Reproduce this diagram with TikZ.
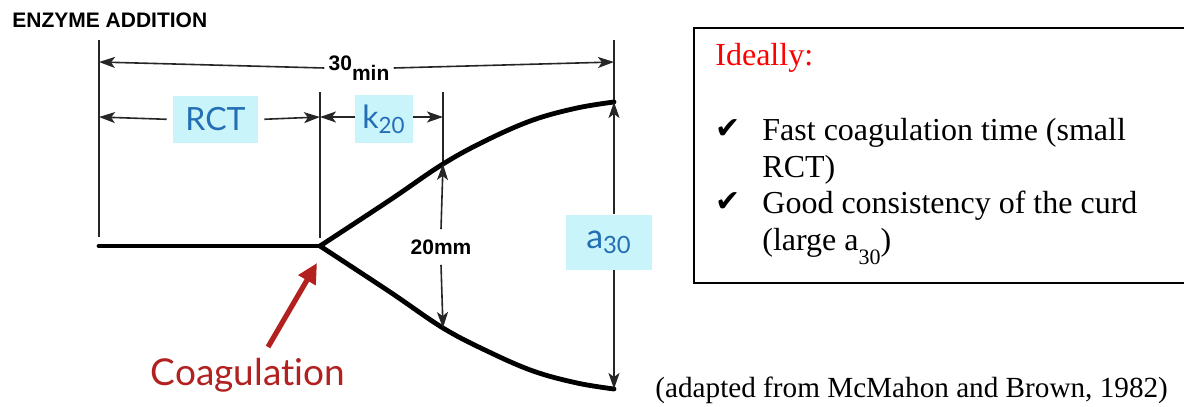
\documentclass[tikz,border=0pt]{standalone}
\usepackage{fontspec}
\setmainfont{Liberation Serif}
\newfontfamily\helvfont{Liberation Sans}
\newfontfamily\gillfont{Lato}[Ligatures=NoCommon]
\newfontfamily\symfont{DejaVu Sans}
\usetikzlibrary{
  arrows.meta,
  positioning,
  calc
}
\definecolor{tagcyan}{RGB}{200,244,250}
\definecolor{tagblue}{RGB}{35,110,180}
\definecolor{coagred}{RGB}{178,32,32}
\tikzset{
  dimline/.style={line width=0.8pt,draw=black!85},
  dimarrow/.style={dimline,-{Stealth[length=8pt,width=5.5pt,inset=2pt]}},
  curdline/.style={line width=2.4pt,line cap=round,line join=round},
  tagbox/.style={
    fill=tagcyan,
    text=tagblue,
    inner sep=0pt,
    font=\gillfont\fontsize{16}{16}\selectfont
  },
  dimlabel/.style={font=\helvfont\bfseries\fontsize{10.5}{10.5}\selectfont,inner sep=2pt},
  boxtext/.style={font=\fontsize{16}{18}\selectfont,inner sep=0pt,anchor=base west},
  checkmark/.style={font=\symfont\fontsize{15}{15}\selectfont,inner sep=0pt,anchor=base west},
  coagarrow/.style={draw=coagred,line width=2.6pt,-{Triangle[length=10pt,width=9.5pt]}},
}

\begin{document}
\begin{tikzpicture}[x=0.5pt,y=-0.5pt]
  \useasboundingbox (0,0) rectangle (1184,407);

  % Title
  \node[font=\helvfont\bfseries\fontsize{10.5}{10.5}\selectfont,anchor=base west,inner sep=0pt] (enzyme) at (12,27) {ENZYME ADDITION};

  % Key points of the curve
  \coordinate (start) at (99,246);
  \coordinate (split) at (320,246);
  \coordinate (upk) at (443,164);
  \coordinate (lowk) at (443,328);
  \coordinate (upend) at (614,102);
  \coordinate (lowend) at (614,389);

  % Extension lines
  \draw[dimline] (99,40) coordinate (ltop) -- (99,237) coordinate (lbot);
  \draw[dimline] (320,92) coordinate (mtop) -- (320,238) coordinate (mbot);
  \draw[dimline] (443,92) coordinate (ktop) -- (upk);
  \draw[dimline] (614,40) coordinate (rtop) -- (upend);

  % Curd firmness curve
  \draw[curdline] (start) -- (split);
  \draw[curdline] plot[smooth,tension=0.6] coordinates {(320,246) (390,200) (443,164) (487,140) (533,120) (577,108) (614,102)};
  \draw[curdline] plot[smooth,tension=0.6] coordinates {(320,246) (390,292) (443,328) (487,351) (533,371) (577,383) (614,389)};

  % 30 min
  \node[dimlabel,fill=white] (total) at (359,68) {30\raisebox{-5pt}{min}};
  \draw[dimarrow] (total.west) -- (99,62 -| ltop);
  \draw[dimarrow] (total.east) -- (614,62);

  % RCT and k20
  \node[tagbox,minimum width=42.5pt,minimum height=23.5pt] (rct) at (215.5,119.5) {RCT};
  \node[tagbox,minimum width=29pt,minimum height=24pt] (k20) at (384,119) {k\textsubscript{20}};
  \draw[dimarrow,shorten <=3pt] (rct.west) -- (99,117);
  \draw[dimarrow,shorten <=3pt] (rct.east) -- (320,117);
  \draw[dimarrow] (k20.west) ++(0,-2) -- (320,117);
  \draw[dimarrow] (k20.east) ++(0,-2) -- (443,117);

  % 20 mm
  \node[dimlabel,inner sep=5pt] (mm) at (441,247) {20mm};
  \draw[dimarrow] (mm.north) -- (upk);
  \draw[dimarrow] (mm.south) -- (lowk);

  % a30
  \node[tagbox,font=\gillfont\fontsize{17}{17}\selectfont,minimum width=43pt,minimum height=27.5pt] (a30) at (609,242) {a\textsubscript{30}};
  \draw[dimarrow] (a30.north -| upend) -- (upend);
  \draw[dimarrow] (a30.south -| lowend) -- (lowend);

  % Coagulation
  \node[font=\gillfont\fontsize{18.5}{18.5}\selectfont,text=coagred,inner sep=0pt] (coag) at (248,375) {Coagulation};
  \coordinate (coagtail) at (268,347);
  \coordinate (coagtip) at (317,263);
  \draw[coagarrow] (coagtail) -- (coagtip);

  % Ideal box
  \node[draw,line width=1pt,anchor=north west,minimum width=260pt,minimum height=127.5pt,inner sep=0pt] (idealbox) at (693,27) {};
  \node[boxtext,text=red] (ideal) at (715,65) {Ideally:};
  \node[checkmark] (check1) at (715,138) {✔};
  \node[checkmark] (check2) at (715,211) {✔};
  \node[boxtext] (fast1) at (762,140) {Fast coagulation time (small};
  \node[boxtext] (fast2) at (762,177) {RCT)};
  \node[boxtext] (good1) at (762,213) {Good consistency of the curd};
  \node[boxtext] (good2) at (762,250) {(large a\raisebox{-7pt}{\fontsize{11}{11}\selectfont 30})};

  % Source
  \node[font=\fontsize{14.6}{14.6}\selectfont,anchor=base west,inner sep=0pt] (source) at (655,397) {(adapted from McMahon and Brown, 1982)};
\end{tikzpicture}
\end{document}
